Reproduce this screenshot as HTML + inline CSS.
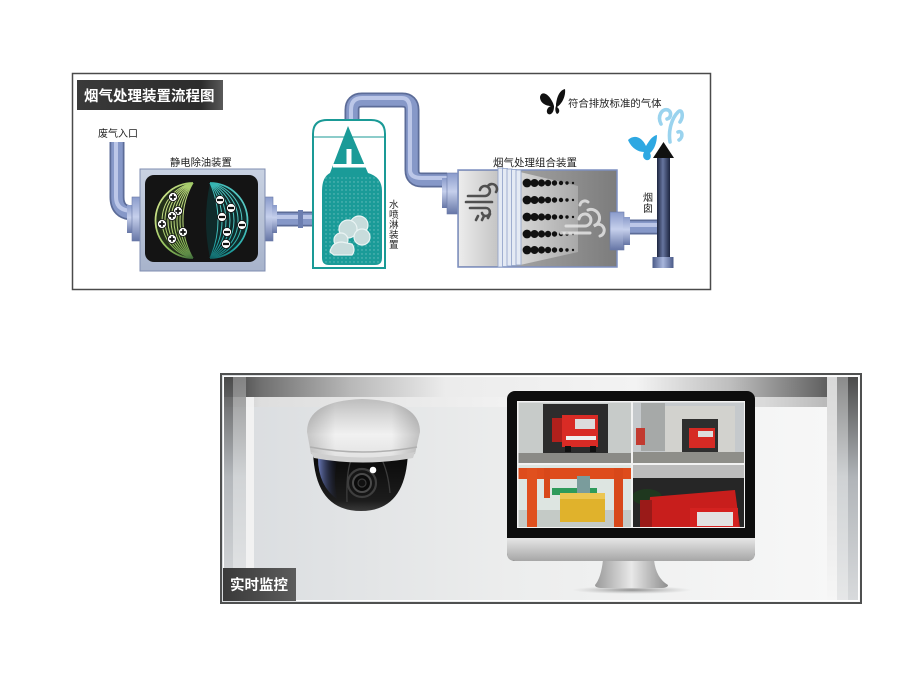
<!DOCTYPE html>
<html><head><meta charset="utf-8"><style>
html,body{margin:0;padding:0;background:#fff;}
svg{display:block;}
text{font-family:"Liberation Sans","Noto Sans CJK SC",sans-serif;}
</style></head><body>
<svg width="920" height="690" viewBox="0 0 920 690" xmlns="http://www.w3.org/2000/svg">
<defs>
 <linearGradient id="title" x1="0" y1="0" x2="1" y2="0"><stop offset="0" stop-color="#3a3a3a"/><stop offset="0.85" stop-color="#2c2c2c"/><stop offset="1" stop-color="#5a5a5a"/></linearGradient>
 <linearGradient id="flV" x1="0" y1="0" x2="0" y2="1"><stop offset="0" stop-color="#8a9bcb"/><stop offset="0.45" stop-color="#c6d0ec"/><stop offset="1" stop-color="#6676a6"/></linearGradient>
 <linearGradient id="frame" x1="0" y1="0" x2="0" y2="1"><stop offset="0" stop-color="#c9d2e2"/><stop offset="1" stop-color="#a7b3cb"/></linearGradient>
 <linearGradient id="leftPart" x1="0" y1="0" x2="1" y2="0"><stop offset="0" stop-color="#ececec"/><stop offset="1" stop-color="#c2c2c2"/></linearGradient>
 <linearGradient id="rightPart" x1="0" y1="0" x2="1" y2="0"><stop offset="0" stop-color="#b8b8b8"/><stop offset="1" stop-color="#7c7c7c"/></linearGradient>
 <linearGradient id="trap" x1="0" y1="0" x2="1" y2="0"><stop offset="0" stop-color="#d6d6d6"/><stop offset="1" stop-color="#a8a8a8"/></linearGradient>
 <linearGradient id="chim" x1="0" y1="0" x2="1" y2="0"><stop offset="0" stop-color="#1d2540"/><stop offset="0.45" stop-color="#66759f"/><stop offset="1" stop-color="#1d2540"/></linearGradient>
 <linearGradient id="chimBase" x1="0" y1="0" x2="1" y2="0"><stop offset="0" stop-color="#4a5a88"/><stop offset="0.5" stop-color="#a8b6dc"/><stop offset="1" stop-color="#4a5a88"/></linearGradient>
 <linearGradient id="lcres" x1="0" y1="0" x2="1" y2="1"><stop offset="0" stop-color="#e2ee9a"/><stop offset="0.6" stop-color="#8fbf5a"/><stop offset="1" stop-color="#3e6a3a"/></linearGradient>
 <linearGradient id="rcres" x1="1" y1="0" x2="0" y2="1"><stop offset="0" stop-color="#6fd8d0"/><stop offset="0.6" stop-color="#22a8a8"/><stop offset="1" stop-color="#0f5e60"/></linearGradient>
 <pattern id="dots" width="4" height="4" patternUnits="userSpaceOnUse"><circle cx="2" cy="2" r="0.7" fill="#ffffff" fill-opacity="0.35"/></pattern>
 <linearGradient id="bg2" x1="0" y1="0" x2="1" y2="0"><stop offset="0" stop-color="#d9dcdf"/><stop offset="0.45" stop-color="#eceded"/><stop offset="1" stop-color="#f8f8f8"/></linearGradient>
 <linearGradient id="topA" x1="0" y1="0" x2="1" y2="0">
  <stop offset="0" stop-color="#3a3a3a"/><stop offset="0.06" stop-color="#707070"/><stop offset="0.2" stop-color="#b8b8b8"/><stop offset="0.35" stop-color="#ececec"/><stop offset="0.65" stop-color="#f3f3f3"/><stop offset="0.8" stop-color="#bdbdbd"/><stop offset="0.93" stop-color="#6c6c6c"/><stop offset="1" stop-color="#3c3c3c"/></linearGradient>
 <linearGradient id="topB" x1="0" y1="0" x2="1" y2="0">
  <stop offset="0" stop-color="#bfbfbf"/><stop offset="0.06" stop-color="#dedede"/><stop offset="0.5" stop-color="#f4f4f4"/><stop offset="0.85" stop-color="#dadada"/><stop offset="1" stop-color="#a8a8a8"/></linearGradient>
 <linearGradient id="vDark" x1="0" y1="0" x2="0" y2="1"><stop offset="0" stop-color="#4a4a4a"/><stop offset="0.45" stop-color="#b0b4b8"/><stop offset="1" stop-color="#d8dadc"/></linearGradient>
 <linearGradient id="vMid" x1="0" y1="0" x2="0" y2="1"><stop offset="0" stop-color="#8a8a8a"/><stop offset="0.45" stop-color="#cfd2d4"/><stop offset="1" stop-color="#e6e7e8"/></linearGradient>
 <linearGradient id="vLight" x1="0" y1="0" x2="0" y2="1"><stop offset="0" stop-color="#d8d8d8"/><stop offset="1" stop-color="#f6f6f6"/></linearGradient>
 <linearGradient id="label2" x1="0" y1="0" x2="1" y2="0"><stop offset="0" stop-color="#3a3a3a"/><stop offset="1" stop-color="#5c5c5c"/></linearGradient>
 <linearGradient id="housingV" x1="0" y1="0" x2="0" y2="1"><stop offset="0" stop-color="#bdbdbd"/><stop offset="0.3" stop-color="#d9d9d9"/><stop offset="0.6" stop-color="#f1f1f1"/><stop offset="1" stop-color="#e2e2e2"/></linearGradient>
 <linearGradient id="housingH" x1="0" y1="0" x2="1" y2="0"><stop offset="0" stop-color="#000" stop-opacity="0.18"/><stop offset="0.25" stop-color="#000" stop-opacity="0"/><stop offset="0.75" stop-color="#000" stop-opacity="0"/><stop offset="1" stop-color="#000" stop-opacity="0.2"/></linearGradient>
 <linearGradient id="dome" x1="0" y1="0" x2="0" y2="1"><stop offset="0" stop-color="#050505"/><stop offset="0.85" stop-color="#1c1c1c"/><stop offset="1" stop-color="#3a3a3a"/></linearGradient>
 <linearGradient id="blueRef" x1="0" y1="0" x2="1" y2="0"><stop offset="0" stop-color="#6a7ab8"/><stop offset="1" stop-color="#1a2040" stop-opacity="0"/></linearGradient>
 <linearGradient id="chin" x1="0" y1="0" x2="0" y2="1"><stop offset="0" stop-color="#e6e6e6"/><stop offset="1" stop-color="#a6a6a6"/></linearGradient>
 <linearGradient id="neck" x1="0" y1="0" x2="1" y2="0"><stop offset="0" stop-color="#9a9a9a"/><stop offset="0.5" stop-color="#e8e8e8"/><stop offset="1" stop-color="#8e8e8e"/></linearGradient>
 <radialGradient id="shadow"><stop offset="0" stop-color="#666" stop-opacity="0.7"/><stop offset="1" stop-color="#999" stop-opacity="0"/></radialGradient>
 <clipPath id="q1"><rect x="518.5" y="402.5" width="112.5" height="60.5"/></clipPath>
 <clipPath id="q2"><rect x="633" y="402.5" width="111" height="60.5"/></clipPath>
 <clipPath id="q3"><rect x="518.5" y="465" width="112.5" height="62"/></clipPath>
 <clipPath id="q4"><rect x="633" y="465" width="111" height="62"/></clipPath>
</defs>

<rect width="920" height="690" fill="#fff"/>

<!-- ================= TOP PANEL ================= -->
<rect x="72.5" y="73.5" width="638" height="216" fill="#fff" stroke="#4a4a4a" stroke-width="1.5"/>
<rect x="77" y="80" width="146" height="30" fill="url(#title)"/>
<text x="84" y="101" font-size="14.5" font-weight="bold" fill="#fff">烟气处理装置流程图</text>

<text x="98" y="137" font-size="10" fill="#222">废气入口</text>
<text x="170" y="166" font-size="10.3" fill="#222">静电除油装置</text>
<text x="493" y="166" font-size="10.5" fill="#222">烟气处理组合装置</text>

<!-- pipes -->
<g fill="none" stroke-linecap="butt">
 <g stroke="#5c6c98" stroke-width="15">
  <path d="M117,142 V197 Q117,213 133,213 H142"/>
  <path d="M263,219 H318"/>
  <path d="M352,122 V110 Q352,100 362,100 H402 Q412,100 412,110 V170 Q412,180 422,180 H447"/>
  <path d="M628,227 H660"/>
 </g>
 <g stroke="#8698c8" stroke-width="11.5">
  <path d="M117,142 V197 Q117,213 133,213 H142"/>
  <path d="M263,219 H318"/>
  <path d="M352,122 V110 Q352,100 362,100 H402 Q412,100 412,110 V170 Q412,180 422,180 H447"/>
  <path d="M628,227 H660"/>
 </g>
 <g stroke="#bcc7e8" stroke-width="4">
  <path d="M116,142 V197 Q116,211 133,211 H142"/>
  <path d="M263,217 H318"/>
  <path d="M351,122 V110 Q351,98 362,98 H402 Q410,98 410,110 V170 Q410,178 422,178 H447"/>
  <path d="M628,225 H660"/>
 </g>
</g>
<rect x="298" y="210" width="5" height="18" fill="#6c7eb0"/>

<!-- electrostatic device -->
<rect x="127" y="205" width="6" height="28" fill="url(#flV)"/>
<rect x="132" y="197" width="10" height="44" fill="url(#flV)" stroke="#6a7aa8" stroke-width="0.6"/>
<rect x="263" y="197" width="10" height="44" fill="url(#flV)" stroke="#6a7aa8" stroke-width="0.6"/>
<rect x="272" y="205" width="5" height="28" fill="url(#flV)"/>
<rect x="140" y="169" width="125" height="102" fill="url(#frame)" stroke="#7f8db0" stroke-width="1"/>
<rect x="145" y="175" width="113" height="87" rx="9" fill="#141414"/>
<path d="M193,183 A37.5,37.5 0 0 0 193,258 A75,75 0 0 1 193,183 Z" fill="#23301a"/>
<g fill="none" stroke="url(#lcres)" stroke-width="1">
 <path d="M193,183 A37.5,37.5 0 0 0 193,258" stroke-width="1.8"/>
 <path d="M193,183 A38.2,38.2 0 0 0 193,258"/>
 <path d="M193,183 A39.1,39.1 0 0 0 193,258"/>
 <path d="M193,183 A40.6,40.6 0 0 0 193,258"/>
 <path d="M193,183 A43,43 0 0 0 193,258"/>
 <path d="M193,183 A46.5,46.5 0 0 0 193,258"/>
 <path d="M193,183 A51.9,51.9 0 0 0 193,258"/>
 <path d="M193,183 A60.6,60.6 0 0 0 193,258"/>
 <path d="M193,183 A75,75 0 0 0 193,258"/>
</g>
<path d="M210,183 A37.5,37.5 0 0 1 210,258 A178,178 0 0 1 210,183 Z" fill="#0f2a2a"/>
<g fill="none" stroke="url(#rcres)" stroke-width="1">
 <path d="M210,183 A37.5,37.5 0 0 1 210,258" stroke-width="1.8"/>
 <path d="M210,183 A38,38 0 0 1 210,258"/>
 <path d="M210,183 A39.1,39.1 0 0 1 210,258"/>
 <path d="M210,183 A41.3,41.3 0 0 1 210,258"/>
 <path d="M210,183 A45.2,45.2 0 0 1 210,258"/>
 <path d="M210,183 A52,52 0 0 1 210,258"/>
 <path d="M210,183 A64.6,64.6 0 0 1 210,258"/>
 <path d="M210,183 A91.9,91.9 0 0 1 210,258"/>
</g>
<g stroke="#111" stroke-width="0.8" fill="#fff">
 <circle cx="173" cy="197" r="4.5"/><circle cx="178" cy="211" r="4.5"/><circle cx="172" cy="216" r="4.5"/>
 <circle cx="162" cy="224" r="4.5"/><circle cx="183" cy="232" r="4.5"/><circle cx="172" cy="239" r="4.5"/>
 <circle cx="220" cy="200" r="4.5"/><circle cx="231" cy="208" r="4.5"/><circle cx="222" cy="217" r="4.5"/>
 <circle cx="242" cy="225" r="4.5"/><circle cx="227" cy="232" r="4.5"/><circle cx="226" cy="244" r="4.5"/>
</g>
<g stroke="#111" stroke-width="1.7">
 <path d="M170.3,197h5.4M173,194.3v5.4 M175.3,211h5.4M178,208.3v5.4 M169.3,216h5.4M172,213.3v5.4 M159.3,224h5.4M162,221.3v5.4 M180.3,232h5.4M183,229.3v5.4 M169.3,239h5.4M172,236.3v5.4"/>
 <path d="M217,200h6 M228,208h6 M219,217h6 M239,225h6 M224,232h6 M223,244h6" stroke-width="2.2"/>
</g>

<!-- spray tower -->
<path d="M313,268 V134 Q313,120 327,120 H371 Q385,120 385,134 V268 Z" fill="#fff" stroke="#1a9a96" stroke-width="2"/>
<line x1="314" y1="137" x2="384" y2="137" stroke="#1a9a96" stroke-width="1"/>
<path d="M348,126 L368,173 Q382,177 382,191 V258 Q382,265 375,265 H329 Q322,265 322,258 V191 Q322,177 330,173 Z" fill="#1a9b98"/>
<rect x="323" y="175" width="58" height="88" fill="url(#dots)"/>
<rect x="346.5" y="149" width="5" height="16" fill="#fff"/>
<rect x="333" y="164" width="35" height="3.5" fill="#fff"/>
<g fill="#c8dcdc" stroke="#eaf4f4" stroke-width="1.2">
 <circle cx="359" cy="225" r="9"/>
 <circle cx="348" cy="229" r="9"/>
 <circle cx="362" cy="237" r="8"/>
 <circle cx="341" cy="240" r="7"/>
 <path d="M330,252 Q332,242 342,242 L352,244 Q356,250 352,255 H334 Z"/>
</g>
<g font-size="9.6" fill="#222">
 <text x="389" y="208">水</text><text x="389" y="218">喷</text><text x="389" y="228">淋</text><text x="389" y="238">装</text><text x="389" y="248">置</text>
</g>

<!-- combined device -->
<rect x="442" y="178" width="6" height="30" fill="url(#flV)"/>
<rect x="447" y="173" width="13" height="41" fill="url(#flV)" stroke="#6a7aa8" stroke-width="0.6"/>
<rect x="458" y="170" width="159" height="97" fill="url(#rightPart)" stroke="#7d8fc0" stroke-width="1.5"/>
<rect x="459" y="171" width="41" height="95" fill="url(#leftPart)"/>
<polygon points="520,172 578,186 578,252 520,265" fill="url(#trap)"/>
<g fill="#e4eaf4" stroke="#8ea0c8" stroke-width="0.8">
 <rect x="498" y="168" width="5" height="99"/>
 <rect x="502.5" y="168.5" width="5" height="98"/>
 <rect x="507" y="169" width="5" height="97"/>
 <rect x="511.5" y="169.5" width="5" height="96"/>
 <rect x="516" y="170" width="5" height="95"/>
</g>
<g fill="#111">
 <g id="dotrow">
  <circle cx="527" cy="183" r="4.4"/><circle cx="534.5" cy="183" r="4"/><circle cx="541.5" cy="183" r="3.6"/><circle cx="548" cy="183" r="3.2"/>
  <circle cx="554.5" cy="183" r="2.7"/><circle cx="561" cy="183" r="2.2"/><circle cx="567" cy="183" r="1.7"/><circle cx="573" cy="183" r="1.2"/>
 </g>
 <use href="#dotrow" y="17"/><use href="#dotrow" y="34"/><use href="#dotrow" y="51"/><use href="#dotrow" y="67"/>
</g>
<g fill="none" stroke="#505050" stroke-width="2.6" stroke-linecap="round">
 <path d="M468,196 H485 A5,5 0 1 0 480,190"/>
 <path d="M466,202 H492"/>
 <path d="M470,208 H486 A4,4 0 1 1 482,213"/>
 <path d="M488,186 A5,5 0 0 1 496,192"/>
 <path d="M478,216 l-2,4 M484,216 l-2,4 M490,214 l-2,4"/>
</g>
<g fill="none" stroke="#e4e4e4" stroke-opacity="0.85" stroke-width="3" stroke-linecap="round">
 <path d="M566,226 H585 A6,6 0 1 0 579,219"/>
 <path d="M588,210 A7,7 0 1 1 594,226 A6,6 0 1 1 600,236"/>
 <path d="M561,233 H590"/>
 <path d="M580,205 A5,5 0 0 1 588,202"/>
</g>
<rect x="610" y="212" width="14" height="38" fill="url(#flV)" stroke="#6a7aa8" stroke-width="0.6"/>
<rect x="623" y="217" width="7" height="28" fill="url(#flV)"/>

<!-- chimney -->
<rect x="657" y="155" width="13" height="104" fill="url(#chim)"/>
<rect x="652.5" y="257" width="21" height="11" fill="url(#chimBase)"/>
<polygon points="653,158 674,158 663.5,142" fill="#111"/>
<g font-size="10" fill="#222"><text x="643" y="201">烟</text><text x="643" y="212">囱</text></g>

<g fill="#111">
 <path d="M553,103 C548,92 541,91 540,97 C540,103 546,106 551,106 C545,108 546,116 551,114 C554,112 554,108 554,106 Z"/>
 <path d="M556,104 C557,96 560,90 565,89 C566,96 562,104 557,107 C560,109 560,113 557,114 C555,112 555,108 556,106 Z"/>
</g>
<text x="568" y="107" font-size="10.4" fill="#222">符合排放标准的气体</text>
<g fill="#2ea8e2">
 <path d="M628,140 C634,134 642,137 646,146 C649,141 652,136 657,135 C657,143 654,150 650,153 C652,157 650,161 646,160 C642,158 643,154 644,152 C637,152 631,147 628,140 Z"/>
</g>
<g fill="none" stroke="#9ad3ee" stroke-width="3.6" stroke-linecap="round">
 <path d="M661,124 C657,116 662,108 668,110 C672,112 671,118 667,119"/>
 <path d="M670,142 C668,130 672,118 678,112 C682,108 684,116 680,122"/>
 <path d="M678,132 C683,130 683,138 679,140"/>
</g>

<!-- ================= BOTTOM PANEL ================= -->
<rect x="221" y="374" width="640" height="229" fill="url(#bg2)" stroke="#4f5050" stroke-width="2"/>
<rect x="223" y="376" width="636" height="21" fill="url(#topA)"/>
<rect x="223" y="397" width="636" height="10" fill="url(#topB)"/>
<rect x="223" y="376" width="10" height="225" fill="url(#vDark)" opacity="0.9"/>
<rect x="233" y="376" width="13" height="225" fill="url(#vMid)" opacity="0.85"/>
<rect x="246" y="397" width="8" height="204" fill="#f4f4f4" opacity="0.9"/>
<rect x="827" y="376" width="10" height="225" fill="url(#vLight)"/>
<rect x="837" y="376" width="11" height="225" fill="url(#vMid)"/>
<rect x="848" y="376" width="11" height="225" fill="url(#vDark)"/>
<rect x="223.5" y="376.5" width="635" height="224" fill="none" stroke="#fff" stroke-width="1"/>

<!-- camera -->
<path d="M313,447 Q313,511 361,511 Q408,511 408,447 Q361,440 313,447 Z" fill="url(#dome)"/>
<path d="M318,458 Q318,486 338,500 Q332,480 338,458 Z" fill="url(#blueRef)"/>
<path d="M347,502 Q346,470 352,458 Q366,448 380,456 Q388,470 390,493" fill="none" stroke="#3c3c3c" stroke-width="1.3"/>
<circle cx="362" cy="483" r="14" fill="#151515" stroke="#3e3e3e" stroke-width="2.2"/>
<circle cx="362" cy="483" r="9" fill="#0b0b0b" stroke="#4a4a4a" stroke-width="2"/>
<circle cx="362" cy="483" r="4" fill="#111" stroke="#3a3a3a" stroke-width="1.2"/>
<circle cx="373" cy="470" r="3.3" fill="#fff"/>
<path d="M311,454 L307,432 Q307,401 362,399 Q420,401 420,432 L415,454 Q362,463 311,454 Z" fill="url(#housingV)"/>
<path d="M311,454 L307,432 Q307,401 362,399 Q420,401 420,432 L415,454 Q362,463 311,454 Z" fill="url(#housingH)"/>
<path d="M310,447 Q362,457 417,447" fill="none" stroke="#b0b0b0" stroke-width="1.5"/>
<path d="M311,452 Q362,463 415,452 L413,458 Q362,467 314,458 Z" fill="#cfcfcf"/>

<!-- monitor -->
<ellipse cx="632" cy="590" rx="60" ry="4" fill="url(#shadow)"/>
<path d="M603,560 H654 Q656,578 668,585 Q668,588 660,588 H603 Q595,588 595,585 Q601,578 603,560 Z" fill="url(#neck)"/>
<rect x="507" y="391" width="248" height="170" rx="8" fill="#0d0d0d"/>
<path d="M507,538 H755 V553 Q755,561 747,561 H515 Q507,561 507,553 Z" fill="url(#chin)"/>
<rect x="517" y="401" width="228" height="127" fill="#f2f2f2"/>
<g clip-path="url(#q1)">
 <rect x="518" y="402" width="114" height="62" fill="#c7cbc9"/>
 <rect x="543" y="404" width="65" height="50" fill="#2c2c2c"/>
 <rect x="518" y="453" width="114" height="11" fill="#8a8a86"/>
 <rect x="552" y="418" width="22" height="24" fill="#b0201c"/>
 <rect x="562" y="415" width="36" height="32" fill="#d92b25"/>
 <rect x="575" y="419" width="20" height="10" fill="#dcdcdc"/>
 <rect x="566" y="436" width="30" height="4" fill="#eee"/>
 <rect x="565" y="446" width="6" height="6" fill="#111"/><rect x="590" y="446" width="6" height="6" fill="#111"/>
</g>
<g clip-path="url(#q2)">
 <rect x="633" y="402" width="112" height="62" fill="#c5c9cc"/>
 <rect x="641" y="403" width="24" height="48" fill="#a6a9a8"/>
 <rect x="665" y="406" width="70" height="48" fill="#d2d2ce"/>
 <rect x="682" y="419" width="36" height="35" fill="#2e2e2e"/>
 <rect x="633" y="452" width="112" height="12" fill="#8e8e89"/>
 <rect x="689" y="428" width="26" height="20" fill="#d62a24"/>
 <rect x="698" y="431" width="15" height="6" fill="#ddd"/>
 <rect x="636" y="428" width="9" height="17" fill="#c23a30"/>
</g>
<g clip-path="url(#q3)">
 <rect x="518" y="465" width="114" height="63" fill="#dde5e1"/>
 <rect x="518" y="510" width="114" height="18" fill="#c4cac6"/>
 <rect x="552" y="488" width="45" height="7" fill="#2e9a5a"/>
 <rect x="518" y="468" width="114" height="11" fill="#de4c1c"/>
 <rect x="527" y="468" width="10" height="60" fill="#e0501e"/>
 <rect x="614" y="468" width="9" height="60" fill="#d8481a"/>
 <rect x="544" y="468" width="6" height="30" fill="#d8481a"/>
 <rect x="577" y="476" width="13" height="22" fill="#7a9c9c"/>
 <rect x="560" y="493" width="45" height="29" fill="#e0b22c"/>
 <rect x="560" y="493" width="45" height="6" fill="#ecc652"/>
</g>
<g clip-path="url(#q4)">
 <rect x="633" y="465" width="112" height="63" fill="#262626"/>
 <rect x="633" y="465" width="112" height="13" fill="#bcbcbc"/>
 <ellipse cx="647" cy="497" rx="15" ry="8" fill="#1f381f"/>
 <polygon points="650,497 735,490 740,528 648,528" fill="#c81e1c"/>
 <rect x="640" y="500" width="12" height="28" fill="#9a1a18"/>
 <rect x="690" y="508" width="48" height="20" fill="#d42220"/>
 <rect x="697" y="512" width="36" height="14" fill="#e2e2e2"/>
</g>
<line x1="632" y1="401" x2="632" y2="528" stroke="#f2f2f2" stroke-width="2"/>
<line x1="517" y1="464" x2="745" y2="464" stroke="#f2f2f2" stroke-width="2"/>

<rect x="223" y="568" width="73" height="33" fill="url(#label2)"/>
<text x="230" y="590" font-size="14.5" font-weight="bold" fill="#fff">实时监控</text>
</svg>
</body></html>
